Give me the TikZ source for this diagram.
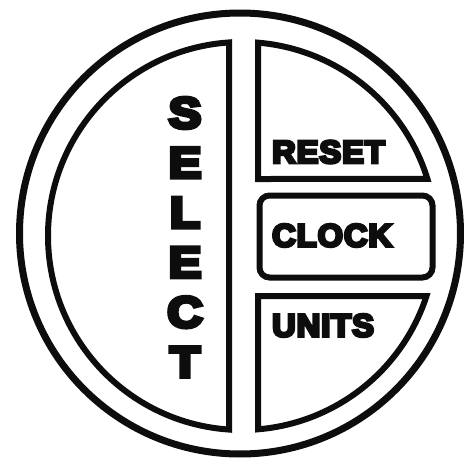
\documentclass[tikz,border=0pt]{standalone}
\usepackage{fontspec}
\usepackage{tikz}
\usetikzlibrary{positioning,calc}
\usepackage{xcolor}
\definecolor{ink}{HTML}{0D0D0D}
\newfontfamily\keyfont[FakeBold=9,FakeStretch=1.02,LetterSpace=3]{Liberation Sans Bold}
\tikzset{rim/.style={draw=ink,line width=7pt},
  pad/.style={draw=ink,line width=6pt,line join=miter},
  lbl/.style={font=\keyfont\fontsize{32}{36}\selectfont,text=ink,anchor=base west,inner sep=0pt},
  sel/.style={font=\keyfont\fontsize{43.5}{48}\selectfont,text=ink,inner sep=0pt,xscale=1.1}}

\begin{document}
\begin{tikzpicture}[x=1pt,y=-1pt]
    \useasboundingbox (0,0) rectangle (467,458);
    % bezel and the four keys (inner ring centre (242,236), r=194)
    \draw[rim] (240,233.5) circle[radius=220.5];
    \draw[pad] (229,42.44) arc[start angle=-93.84,end angle=-266.16,radius=194] -- cycle;
    \draw[pad] (258,179) -- (258,42.66) arc[start angle=-85.27,end angle=-17.09,radius=194] -- cycle;
    \draw[pad] (258,296) -- (426.49,296) arc[start angle=18.02,end angle=85.27,radius=194] -- cycle;
    \node[pad,rounded corners=10pt,minimum width=173pt,minimum height=82pt,inner sep=0pt] (clock) at (346,236.5) {};
    % labels
    \foreach \ch [count=\i] in {S,E,L,E,C,T}
      \node[sel] (select\i) at (185,{113+49.8*(\i-1)}) {\ch};
    \node[lbl] (reset) at (272,163) {RESET};
    \node[lbl] (clocklbl) at (272,246.5) {CLOCK};
    \node[lbl] (units) at (272,336.5) {UNITS};
  \end{tikzpicture}
\end{document}
